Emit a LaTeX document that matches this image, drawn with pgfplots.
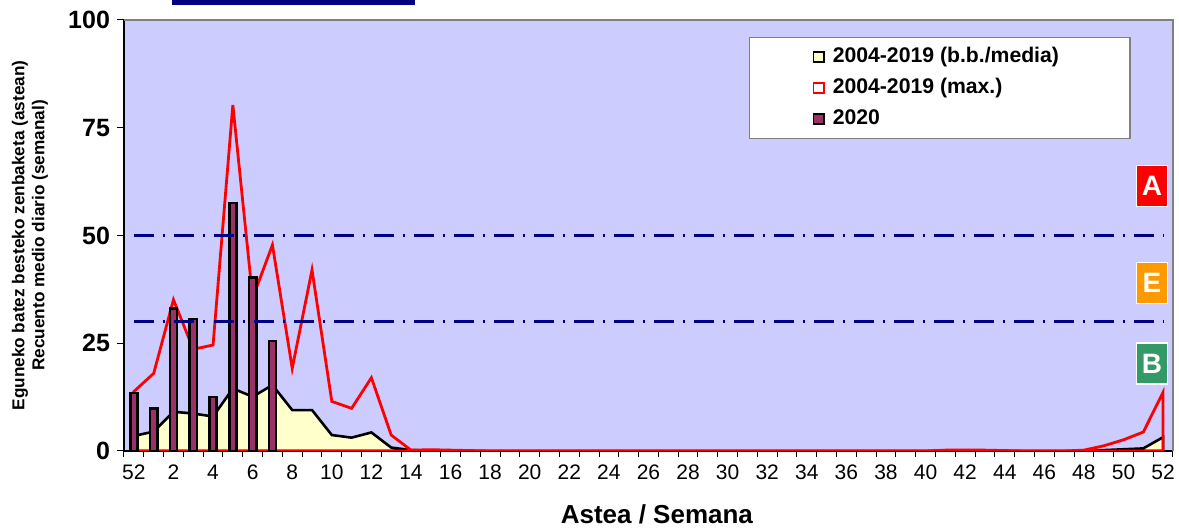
\documentclass[border=0pt]{standalone}
\usepackage{fontspec}
\setmainfont{Liberation Sans}
\usepackage{pgfplots}
\pgfplotsset{compat=1.18}
\usepackage{pgfplotstable}

\definecolor{plotbg}{HTML}{CCCCFF}
\definecolor{avgfill}{HTML}{FFFFCC}
\definecolor{bar2020}{HTML}{993366}
\definecolor{navyline}{HTML}{000080}
\definecolor{boxA}{HTML}{FF0000}
\definecolor{boxE}{HTML}{FF9900}
\definecolor{boxB}{HTML}{339966}

% x: 0 = week 52 of previous year, 1..52 = weeks of the year
\pgfplotstableread{
x  max   avg
0  13.8  3.5
1  18.0  4.5
2  35.1  9.1
3  23.6  8.7
4  24.6  8.0
5  80.3  14.5
6  35.5  12.6
7  47.8  15.3
8  19.2  9.5
9  42.0  9.5
10 11.5  3.7
11 9.9   3.1
12 17.0  4.3
13 3.7   0.8
14 0.2   0.2
15 0.3   0.1
16 0.2   0
17 0.1   0
18 0     0
19 0     0
20 0     0
21 0     0
22 0     0
23 0     0
24 0     0
25 0     0
26 0     0
27 0     0
28 0     0
29 0     0
30 0     0
31 0     0
32 0     0
33 0     0
34 0     0
35 0     0
36 0     0
37 0     0
38 0     0
39 0     0
40 0     0
41 0.2   0
42 0.2   0
43 0.2   0
44 0.1   0
45 0     0
46 0     0
47 0     0
48 0.2   0.1
49 1.2   0.2
50 2.6   0.4
51 4.4   0.6
52 13.6  3.2
}\histdata

\pgfplotstableread{
x val
0 13.5
1 9.9
2 33.0
3 30.6
4 12.5
5 57.5
6 40.3
7 25.5
}\curdata

\begin{document}
\begin{tikzpicture}
\path[use as bounding box] (-62pt,-39.5pt) rectangle (527.5pt,225.5pt);
\fill[navyline] (24pt,223pt) rectangle (145.5pt,225.5pt);
\begin{axis}[
  name=ax,
  at={(0,0)}, anchor=south west,
  scale only axis,
  width=524.5pt, height=215.5pt,
  xmin=-0.5, xmax=52.5, ymin=0, ymax=100,
  axis x line*=bottom, axis y line*=left,
  axis line style={black, line width=0.8pt, -},
  axis background/.style={fill=plotbg},
  tick align=outside,
  xtick={0,2,...,52},
  xticklabels={52,2,4,6,8,10,12,14,16,18,20,22,24,26,28,30,32,34,36,38,40,42,44,46,48,50,52},
  minor xtick={-0.5,0.5,...,52.5},
  major x tick style={draw=none},
  minor tick length=3pt,
  major tick length=3.5pt,
  tick style={black, line width=0.5pt},
  ytick={0,25,50,75,100},
  /pgf/number format/assume math mode=true,
  yticklabel style={font=\fontsize{12.5}{13}\selectfont\bfseries},
  xticklabel style={font=\fontsize{10.5}{11}\selectfont},
  ylabel={Eguneko batez besteko zenbaketa (astean)\\Recuento medio diario (semanal)},
  ylabel style={at={(axis description cs:-0.0896,0.5)}, anchor=center, align=center,
    font=\fontsize{8.6}{10}\selectfont\bfseries},
  xlabel={Astea / Semana},
  xlabel style={at={(axis description cs:0.508,-0.146)}, anchor=center,
    font=\fontsize{13}{15}\selectfont\bfseries},
  sqlegend/.style={legend image code/.code={
    \draw[##1, line width=0.9pt] (0pt,-2.6pt) rectangle (5.2pt,2.6pt);}},
  legend cell align=left,
  legend style={at={(0.5958,0.9606)}, anchor=north west, draw=gray, fill=white,
    line width=0.6pt, font=\fontsize{10.6}{12}\selectfont\bfseries,
    inner xsep=31.5pt, inner ysep=4.5pt, row sep=5pt,
    nodes={inner ysep=0pt, inner xsep=4pt, text height=8pt, text depth=2.5pt}},
]
\addplot[fill=avgfill, draw=black, line width=1.3pt, sqlegend]
  table[x=x, y=avg]{\histdata} \closedcycle;
\addlegendentry{2004-2019 (b.b./media)}
\addplot[draw=red, fill=none, line width=1.4pt, sqlegend]
  table[x=x, y=max]{\histdata} \closedcycle;
\addlegendentry{2004-2019 (max.)}
\addplot[ybar, bar width=3.6pt, bar shift=0pt, fill=bar2020, draw=black,
  line width=1.3pt, sqlegend]
  table[x=x, y=val]{\curdata};
\addlegendentry{2020}
\addplot[navyline, line width=1.4pt, dash pattern=on 10pt off 4.5pt on 1pt off 4.5pt, forget plot]
  coordinates {(0,50) (52,50)};
\addplot[navyline, line width=1.4pt, dash pattern=on 10pt off 4.5pt on 1pt off 4.5pt, forget plot]
  coordinates {(0,30) (52,30)};
\tikzset{lvl/.style={draw=white, line width=0.6pt, text=white, minimum width=15.5pt,
  minimum height=20.5pt, inner sep=0pt, font=\fontsize{14}{15}\selectfont\bfseries}}
\node[lvl, fill=boxA] at (axis cs:51.44,61.5) {A};
\node[lvl, fill=boxE] at (axis cs:51.44,39.0) {E};
\node[lvl, fill=boxB] at (axis cs:51.44,20.3) {B};
\end{axis}
\draw[gray, line width=0.9pt] (ax.north west) -- (ax.north east) -- (ax.south east);
\end{tikzpicture}
\end{document}
